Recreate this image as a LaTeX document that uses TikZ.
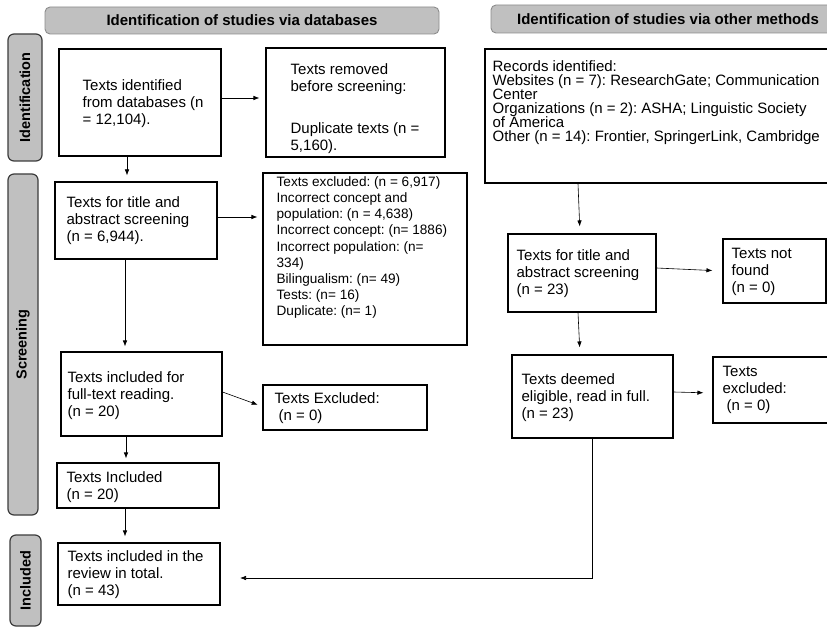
\documentclass[tikz,border=0pt]{standalone}
\usepackage{fontspec}
\setmainfont{Liberation Sans}
\usetikzlibrary{arrows.meta, positioning, calc}
\frenchspacing

\definecolor{phasefill}{HTML}{C0C0C0}
\definecolor{phaseline}{HTML}{8C8C8C}
\definecolor{barline}{HTML}{3C3C3C}

\tikzset{
  phase/.style={draw=phaseline, fill=phasefill, rounded corners=5pt, line width=0.9pt, font=\bfseries\fontsize{15}{18}\selectfont},
  sidebar/.style={draw=barline, fill=phasefill, rounded corners=6pt, line width=1.2pt, rotate=90, font=\bfseries\fontsize{14.5}{17}\selectfont},
  stagebox/.style={draw, line width=1.1pt, inner sep=0pt},
  txt/.style={anchor=west, align=left, inner sep=0pt, font=\fontsize{15}{17}\selectfont},
  smalltxt/.style={txt, font=\fontsize{13.6}{16.1}\selectfont},
  tighttxt/.style={txt, font=\fontsize{15}{14}\selectfont},
  flow/.style={-{Latex[length=6pt,width=4.5pt]}, line width=0.6pt},
}

\begin{document}
\begin{tikzpicture}[x=1pt, y=-1pt]
    \useasboundingbox (0,0) rectangle (827,628);
    \clip (0,0) rectangle (827,628);

    \node (dbHead) [phase, minimum width=394pt, minimum height=27pt] at (242,20.5) {Identification of studies via databases};
    \node (otherHead) [phase, minimum width=354pt, minimum height=28pt] at (668,19) {Identification of studies via other methods};

    \node (idBar) [sidebar, minimum width=127pt, minimum height=34pt] at (25,97.5) {Identification};
    \node (scrBar) [sidebar, minimum width=341pt, minimum height=30pt] at (23,344.5) {Screening};
    \node (incBar) [sidebar, minimum width=91pt, minimum height=31pt] at (25.5,580.5) {Included};

    \node (dbIdent) [stagebox, minimum width=162pt, minimum height=107pt,
        label={[txt, xshift=24pt, yshift=-1.5pt]west:{Texts identified\\from databases (n\\= 12,104).}}] at (140,102.5) {};
    \node (dbRemoved) [stagebox, minimum width=179pt, minimum height=109pt,
        label={[txt, xshift=25pt, yshift=-6.5pt]west:{Texts removed\\before screening:\\[25pt]Duplicate texts (n =\\5,160).}}] at (355.5,102.5) {};
    \node (dbScreen) [stagebox, minimum width=162pt, minimum height=77pt,
        label={[txt, xshift=12pt, yshift=-0.5pt]west:{Texts for title and\\abstract screening\\(n = 6,944).}}] at (136,220.5) {};
    \node (dbExcl) [stagebox, minimum width=204pt, minimum height=172pt,
        label={[smalltxt, xshift=14pt, yshift=11.5pt]west:{Texts excluded: (n = 6,917)\\Incorrect concept and\\population: (n = 4,638)\\Incorrect concept: (n= 1886)\\Incorrect population: (n=\\334)\\Bilingualism: (n= 49)\\Tests: (n= 16)\\Duplicate: (n= 1)}}] at (365,259) {};
    \node (dbFull) [stagebox, minimum width=161pt, minimum height=84pt,
        label={[txt, xshift=7pt, yshift=-2pt]west:{Texts included for\\full-text reading.\\(n = 20)}}] at (141.5,394) {};
    \node (dbExclFull) [stagebox, minimum width=164pt, minimum height=45pt,
        label={[txt, xshift=12pt, yshift=-1pt]west:{Texts Excluded:\\\hspace*{4pt}(n = 0)}}] at (345,407.5) {};
    \node (dbIncl) [stagebox, minimum width=162pt, minimum height=45pt,
        label={[txt, xshift=10pt, yshift=-1.5pt]west:{Texts Included\\(n = 20)}}] at (138,485.5) {};
    \node (dbTotal) [stagebox, minimum width=162pt, minimum height=62pt,
        label={[txt, xshift=10pt, yshift=-1pt]west:{Texts included in the\\review in total.\\(n = 43)}}] at (139,574) {};

    \node (otherRec) [stagebox, minimum width=355pt, minimum height=134pt,
        label={[tighttxt, xshift=8pt, yshift=13pt]west:{Records identified:\\Websites (n = 7): ResearchGate; Communication\\Center\\Organizations (n = 2): ASHA; Linguistic Society\\of America\\Other (n = 14): Frontier, SpringerLink, Cambridge}}] at (662.5,116) {};
    \node (otherScreen) [stagebox, minimum width=148pt, minimum height=78pt,
        label={[txt, xshift=9pt, yshift=-1pt]west:{Texts for title and\\abstract screening\\(n = 23)}}] at (582,273) {};
    \node (otherMissing) [stagebox, minimum width=103pt, minimum height=64pt,
        label={[txt, xshift=9pt, yshift=-1pt]west:{Texts not\\found\\(n = 0)}}] at (774.5,271) {};
    \node (otherFull) [stagebox, minimum width=161pt, minimum height=83pt,
        label={[txt, xshift=10pt, yshift=-1.5pt]west:{Texts deemed\\eligible, read in full.\\(n = 23)}}] at (592.5,396.5) {};
    \node (otherExcl) [stagebox, minimum width=132pt, minimum height=66pt,
        label={[txt, xshift=10pt]west:{Texts\\excluded:\\\hspace*{4pt}(n = 0)}}] at (779,390) {};

    \coordinate (mergeEnd) at (240,578);

    \draw[flow, shorten >=6pt] ([yshift=4.5pt]dbIdent.east) -- ([yshift=4.5pt]dbRemoved.west);
    \draw[flow, shorten >=6pt] ([xshift=-13pt]dbIdent.south) -- ([xshift=-13pt]dbIdent.south |- dbScreen.north);
    \draw[flow, shorten >=5pt] ([yshift=3.5pt]dbScreen.east) -- ([yshift=3.5pt]dbScreen.east -| dbExcl.west);
    \draw[flow, shorten >=5pt] ([xshift=-11pt]dbScreen.south) -- ([xshift=-11pt]dbScreen.south |- dbFull.north);
    \draw[flow, shorten >=5pt] ([yshift=2pt]dbFull.east) -- ([yshift=1pt]dbExclFull.west);
    \draw[flow, shorten >=4pt] ([xshift=-15.5pt]dbFull.south) -- ([xshift=-15.5pt]dbFull.south |- dbIncl.north);
    \draw[flow, shorten >=6pt] ([xshift=-13pt]dbIncl.south) -- ([xshift=-13pt]dbIncl.south |- dbTotal.north);

    \draw[flow, shorten >=7pt] ([xshift=-84.5pt]otherRec.south) -- ([xshift=-2pt]otherScreen.north);
    \draw[flow, shorten >=10pt] ([yshift=5pt]otherScreen.east) -- (otherMissing.west);
    \draw[flow, shorten >=7pt] ([xshift=-4pt]otherScreen.south) -- ([xshift=-12.5pt]otherFull.north);
    \draw[flow, shorten >=9pt] ([yshift=4.5pt]otherFull.east) -- ([yshift=-3pt]otherExcl.west);
    \draw[flow] (otherFull.south) |- (mergeEnd);
\end{tikzpicture}
\end{document}
